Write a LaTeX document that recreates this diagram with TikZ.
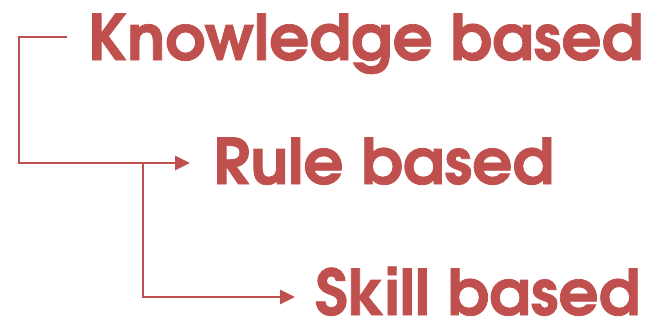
\documentclass[tikz,border=0pt]{standalone}
\usepackage{fontspec}
\newfontfamily\levelfont{texgyreadventor}[Extension=.otf,UprightFont=*-regular,BoldFont=*-bold,BoldFeatures={FakeBold=1.2}]
\usetikzlibrary{arrows.meta}
\definecolor{brick}{HTML}{C0504D}

\begin{document}
\begin{tikzpicture}[x=1pt,y=-1pt,
  level/.style={anchor=base west,inner sep=0pt,text=brick,font=\levelfont\bfseries\fontsize{63}{70}\selectfont},
  flow/.style={draw=brick,line width=2.7pt,-{Triangle[length=15pt,width=14pt]}}]
\useasboundingbox (0,0) rectangle (659,322);
% levels
\node[level] (know) at (88,60) {Knowledge based};
\node[level] (rule) at (213,184) {Rule based};
\node[level] (skill) at (315,315) {Skill based};
% connectors
\coordinate (kstart) at (67,37);
\coordinate (kbend) at (19,37);
\coordinate (rtip) at (190,163);
\coordinate (rstart) at (143,163);
\coordinate (stip) at (295,297);
\draw[flow] (kstart) -- (kbend) |- (rtip);
\draw[flow] (rstart) |- (stip);
\end{tikzpicture}
\end{document}
